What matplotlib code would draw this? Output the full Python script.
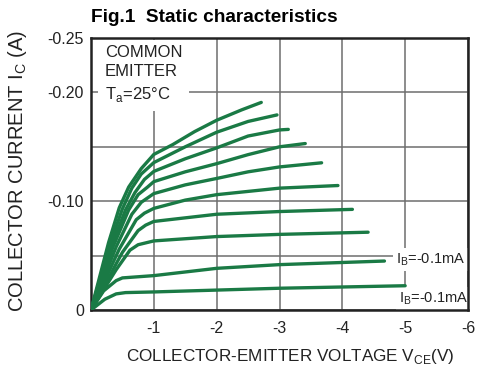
import numpy as np
import matplotlib
matplotlib.use("Agg")
import matplotlib.pyplot as plt

plt.rcParams['font.family'] = ['Liberation Sans', 'DejaVu Sans']
plt.rcParams['mathtext.fontset'] = 'custom'
plt.rcParams['mathtext.rm'] = 'Liberation Sans'

# Ic vs Vce curves, lowest base current first
vce_1 = [0, -0.22, -0.4, -0.55, -1.0, -2.0, -3.0, -5.0]
ic_1 = [0, -0.0099, -0.0148, -0.016, -0.0166, -0.0183, -0.020, -0.0223]
vce_2 = [0, -0.2, -0.4, -0.5, -1.0, -2.0, -3.0, -4.67]
ic_2 = [0, -0.0175, -0.027, -0.0295, -0.0316, -0.0383, -0.0417, -0.045]
vce_3 = [0, -0.4, -0.62, -0.75, -1.0, -2.0, -3.0, -4.41]
ic_3 = [0, -0.037, -0.055, -0.060, -0.0635, -0.0675, -0.0695, -0.0715]
vce_4 = [0, -0.5, -0.75, -0.87, -1.0, -2.0, -3.0, -4.16]
ic_4 = [0, -0.053, -0.073, -0.078, -0.0814, -0.088, -0.0905, -0.0925]
vce_5 = [0, -0.45, -0.72, -0.85, -1.0, -1.5, -2.0, -3.0, -3.93]
ic_5 = [0, -0.056, -0.083, -0.089, -0.0934, -0.101, -0.106, -0.112, -0.1144]
vce_6 = [0, -0.4, -0.65, -0.8, -1.0, -1.5, -2.0, -2.5, -3.0, -3.67]
ic_6 = [0, -0.058, -0.088, -0.099, -0.107, -0.115, -0.1209, -0.127, -0.1315, -0.1353]
vce_7 = [0, -0.35, -0.6, -0.75, -0.9, -1.0, -1.5, -2.0, -2.5, -3.0, -3.41]
ic_7 = [0, -0.058, -0.092, -0.106, -0.113, -0.118, -0.127, -0.1345, -0.1428, -0.150, -0.153]
vce_8 = [0, -0.32, -0.55, -0.7, -0.85, -1.0, -1.5, -2.0, -2.5, -3.0, -3.14]
ic_8 = [0, -0.058, -0.092, -0.108, -0.120, -0.1274, -0.139, -0.149, -0.1599, -0.1655, -0.166]
vce_9 = [0, -0.3, -0.5, -0.65, -0.8, -1.0, -1.5, -2.0, -2.5, -2.96]
ic_9 = [0, -0.060, -0.093, -0.112, -0.125, -0.1355, -0.150, -0.1634, -0.1733, -0.1793]
vce_10 = [0, -0.28, -0.45, -0.6, -0.8, -1.0, -1.3, -1.65, -2.0, -2.4, -2.71]
ic_10 = [0, -0.062, -0.094, -0.113, -0.130, -0.143, -0.152, -0.164, -0.1744, -0.184, -0.1908]

curves = [(vce_1, ic_1), (vce_2, ic_2), (vce_3, ic_3), (vce_4, ic_4), (vce_5, ic_5),
          (vce_6, ic_6), (vce_7, ic_7), (vce_8, ic_8), (vce_9, ic_9), (vce_10, ic_10)]

x_ticks = [-1, -2, -3, -4, -5, -6]
y_ticks = [0, -0.05, -0.10, -0.15, -0.20, -0.25]
y_labels = ['0', '', '-0.10', '', '-0.20', '-0.25']

green = '#1a7a45'
ink = '#222222'

fig = plt.figure(figsize=(4.81, 3.74), dpi=100)
ax = fig.add_axes([91/481, 64/374, 377/481, 272/374])

for v, i in curves:
    ax.plot(v, i, color=green, lw=2.4, solid_capstyle='round', solid_joinstyle='round', zorder=3)

ax.set_xlim(0, -6)
ax.set_ylim(0, -0.25)
ax.set_xticks(x_ticks)
ax.set_xticklabels([str(t) for t in x_ticks])
ax.set_yticks(y_ticks)
ax.set_yticklabels(y_labels)
ax.tick_params(length=0, labelsize=11.5, labelcolor=ink)
ax.tick_params(axis='x', pad=8)
ax.tick_params(axis='y', pad=5)
ax.grid(True, color='#6e6e6e', lw=1.1, zorder=1)
ax.set_axisbelow(True)
for s in ax.spines.values():
    s.set_linewidth(1.8)
    s.set_color(ink)

# labels
fig.text(91/481, 1 - 17/374, 'Fig.1  Static characteristics', fontsize=13.7,
         fontweight='bold', ha='left', va='center')
fig.text(290/481, 1 - 357/374, 'COLLECTOR-EMITTER VOLTAGE V$_{\\mathregular{CE}}$(V)',
         fontsize=12.3, ha='center', va='center', color=ink)
fig.text(18/481, 1 - 171/374, 'COLLECTOR CURRENT I$_{\\mathregular{C}}$ (A)',
         fontsize=14.5, ha='center', va='center', rotation=90, color=ink)

box = dict(facecolor='white', edgecolor='none', pad=2)
ax.text(-0.22, -0.2437, 'COMMON\nEMITTER\nT$_{\\mathregular{a}}$=25\u00b0C', fontsize=12,
        ha='left', va='top', linespacing=1.38, color=ink,
        bbox=dict(facecolor='white', edgecolor='none', pad=5), zorder=2)
ax.text(-4.85, -0.0465, 'I$_{\\mathregular{B}}$=-0.1mA', fontsize=10.5, ha='left', va='center',
        color=ink, bbox=box, zorder=2)
ax.text(-4.9, -0.0105, 'I$_{\\mathregular{B}}$=-0.1mA', fontsize=10.5, ha='left', va='center',
        color=ink, bbox=box, zorder=2)

fig.savefig('out.png', dpi=100)
